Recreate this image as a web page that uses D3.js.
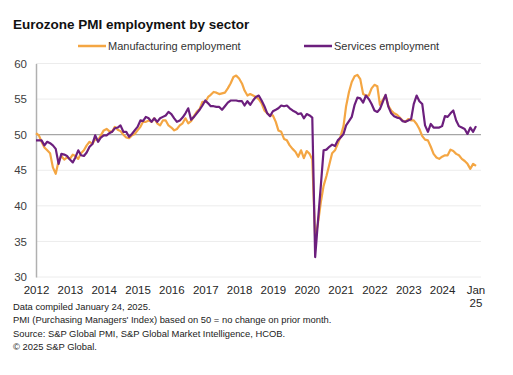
<!DOCTYPE html>
<html>
<head>
<meta charset="utf-8">
<script src="https://cdn.jsdelivr.net/npm/d3@7"></script>
<style>
  body { margin: 0; background: #fff; }
  svg { font-family: "Liberation Sans", Arial, sans-serif; }
</style>
</head>
<body>
<svg id="chart" width="513" height="375"></svg>
<script>
// monthly readings, Jan 2012 .. Jan 2025
const manufacturing = [
  50.2, 49.9, 49.0, 48.2, 47.8, 47.4, 45.4, 44.5, 46.3, 47.0, 46.5, 46.8,
  46.6, 47.2, 47.0, 46.6, 47.4, 47.8, 48.5, 49.0, 48.7, 49.4, 49.2, 49.9,
  50.6, 50.8, 50.5, 50.4, 51.1, 50.7, 50.5, 50.0, 49.6, 49.5, 49.9, 50.1,
  50.6, 51.1, 51.8, 51.8, 52.0, 51.8, 52.3, 51.6, 51.3, 52.0, 52.0, 51.3,
  51.0, 50.6, 50.8, 51.3, 51.6, 52.3, 51.6, 51.9, 52.6, 53.2, 53.6, 54.6,
  54.6, 55.3, 55.6, 56.0, 55.9, 55.7, 55.8, 55.9, 56.5, 57.2, 58.1, 58.3,
  57.9, 57.2, 56.2, 55.5, 55.7, 55.5, 55.3, 55.0, 54.4, 53.4, 53.0, 52.7,
  52.7, 51.8, 50.6, 50.4, 49.4, 49.2, 48.5, 48.0, 47.6, 46.9, 47.8, 46.7,
  47.7, 47.3, 46.5, 35.5, 37.5, 40.5, 42.8, 44.2, 45.8, 47.4, 47.8, 48.7,
  49.8, 51.2, 54.0, 56.0, 57.4, 58.2, 58.4, 57.8, 55.7, 55.5, 55.5, 56.5,
  57.0, 56.8, 54.2, 54.9, 55.5, 54.0, 53.4, 53.0, 52.8, 52.4, 52.0, 51.8,
  52.2, 52.0, 52.0, 51.5, 50.8, 49.8, 49.3, 49.2, 48.3, 47.3, 46.8, 46.6,
  46.9, 47.1, 47.1, 47.9, 47.7, 47.3, 47.1, 46.6, 46.3, 45.9, 45.2, 45.9,
  45.6
];
const services = [
  49.2, 49.2, 49.2, 48.5, 49.0, 48.8, 48.5, 48.0, 45.9, 47.3, 47.2, 47.0,
  46.5, 46.1, 46.8, 47.8, 47.1, 47.0, 47.5, 48.3, 48.7, 49.9, 49.0, 49.6,
  49.9, 49.9, 50.2, 50.4, 50.9, 51.0, 51.3, 50.4, 50.4, 49.7, 50.1, 50.6,
  51.1, 52.0, 51.9, 52.5, 52.3, 51.8, 52.3, 51.8, 52.3, 52.5, 52.7, 53.2,
  52.9, 52.3, 51.8, 52.0, 52.4, 53.0, 53.7, 52.1, 52.5, 53.0, 53.5, 54.1,
  54.8, 54.4, 54.0, 54.0, 53.9, 53.9, 53.5, 54.0, 54.5, 54.8, 54.8, 54.8,
  54.7, 54.7, 54.1, 54.7, 54.2, 54.8, 55.3, 55.5, 54.8, 54.0, 53.0, 52.6,
  53.3, 53.5, 53.7, 54.1, 54.0, 54.1, 53.7, 53.4, 53.2, 52.9, 53.0, 52.3,
  52.9, 52.7, 52.4, 32.8, 37.8, 42.8, 47.8, 47.9, 48.3, 48.6, 48.4, 49.2,
  49.6, 50.1, 51.3, 51.9, 52.5, 54.2, 55.2, 55.1, 54.5, 55.5, 55.0, 54.3,
  53.4, 53.2, 53.6, 54.6, 55.6, 53.9, 53.0, 52.6, 52.4, 52.3, 51.9, 51.8,
  52.0, 52.2, 54.3, 55.5, 54.7, 54.3, 51.3, 50.4, 51.5, 51.0, 51.0, 51.0,
  51.2, 52.6, 52.5, 53.0, 53.4, 52.0, 51.2, 51.0, 50.8, 50.1, 51.0, 50.4,
  51.2
];
const yTicks = [30, 35, 40, 45, 50, 55, 60];
const yearLabels = ["2012", "2013", "2014", "2015", "2016", "2017", "2018",
  "2019", "2020", "2021", "2022", "2023", "2024"];
const seriesNames = ["Manufacturing employment", "Services employment"];
const colors = ["#f4a643", "#6c1f7d"];
const notes = [
  "Data compiled January 24, 2025.",
  "PMI (Purchasing Managers' Index) based on 50 = no change on prior month.",
  "Source: S&P Global PMI, S&P Global Market Intelligence, HCOB.",
  "\u00a9 2025 S&P Global."
];

let svg = d3.select("#chart");
let plotLeft = 36, plotRight = 476, plotTop = 63.5, plotBottom = 277;

let dates = d3.timeMonth.range(new Date(2012, 0, 1), new Date(2025, 0, 2));

let xScale = d3.scaleTime()
  .domain([new Date(2012, 0, 1), new Date(2025, 0, 1)])
  .range([plotLeft, plotRight]);
let yScale = d3.scaleLinear()
  .domain([30, 60])
  .range([plotBottom, plotTop]);

// gridlines
svg.append("g").selectAll("line").data(yTicks).enter().append("line")
  .attr("x1", plotLeft).attr("x2", 481)
  .attr("y1", d => yScale(d)).attr("y2", d => yScale(d))
  .attr("stroke", d => d == 50 ? "#a6a6a6" : "#ececec")
  .attr("stroke-width", d => d == 50 ? 1.2 : 1);

// y axis
let yAxis = d3.axisLeft(yScale).tickValues(yTicks).tickSize(0).tickPadding(9);
let y = svg.append("g").attr("transform", "translate(" + plotLeft + ",0)").call(yAxis);
y.select(".domain").attr("stroke", "#b0b0b0").attr("stroke-width", 1.5);
y.selectAll("text").attr("font-size", 11.5).attr("fill", "#404040")
  .attr("font-family", "Liberation Sans, Arial, sans-serif");

// x axis labels
let xTickDates = yearLabels.map(d => new Date(+d, 0, 1));
let xAxis = d3.axisBottom(xScale).tickValues(xTickDates)
  .tickFormat(d3.timeFormat("%Y")).tickSize(0).tickPadding(9);
let x = svg.append("g").attr("transform", "translate(0," + plotBottom + ")").call(xAxis);
x.select(".domain").remove();
x.selectAll("text").attr("font-size", 11.5).attr("fill", "#262626")
  .attr("font-family", "Liberation Sans, Arial, sans-serif");
let jan = svg.append("text")
  .attr("x", xScale(new Date(2025, 0, 1)))
  .attr("y", 294)
  .attr("text-anchor", "middle")
  .attr("font-size", 11.5).attr("fill", "#262626");
jan.append("tspan").attr("x", xScale(new Date(2025, 0, 1))).text("Jan");
jan.append("tspan").attr("x", xScale(new Date(2025, 0, 1))).attr("dy", 12.5).text("25");

// lines
let line = d3.line()
  .x((d, i) => xScale(dates[i]))
  .y(d => yScale(d));
[manufacturing, services].forEach(function (s, k) {
  svg.append("path").datum(s)
    .attr("d", line)
    .attr("fill", "none")
    .attr("stroke", colors[k])
    .attr("stroke-width", 2.2)
    .attr("stroke-linejoin", "round");
});

// title
svg.append("text").attr("x", 13).attr("y", 29)
  .attr("font-size", 13.5).attr("font-weight", "bold").attr("fill", "#111")
  .text("Eurozone PMI employment by sector");

// legend
let legendX = [78, 304];
seriesNames.forEach(function (n, k) {
  svg.append("line")
    .attr("x1", legendX[k]).attr("x2", legendX[k] + 28)
    .attr("y1", 46).attr("y2", 46)
    .attr("stroke", colors[k]).attr("stroke-width", 2.5);
  svg.append("text").attr("x", legendX[k] + 30).attr("y", 50)
    .attr("font-size", 11).attr("fill", "#333").text(n);
});

// footnotes
svg.append("g").selectAll("text").data(notes).enter().append("text")
  .attr("x", 13).attr("y", (d, i) => 310 + i * 13.4)
  .attr("font-size", 9.4).attr("fill", "#222")
  .text(d => d);
</script>
</body>
</html>
